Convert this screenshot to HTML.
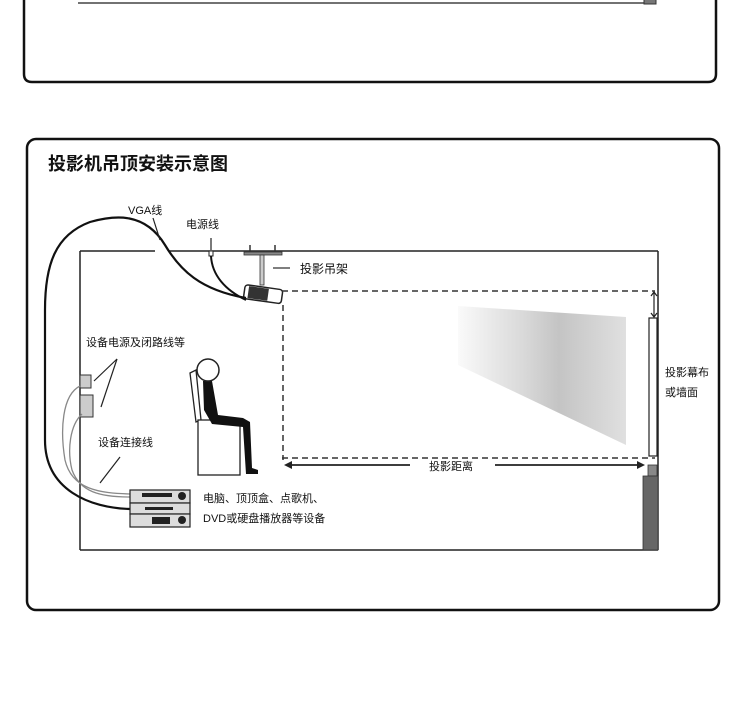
<!DOCTYPE html>
<html><head><meta charset="utf-8"><style>
html,body{margin:0;padding:0;background:#fff;}
svg{display:block;}
text{font-family:"Liberation Sans","Noto Sans CJK SC",sans-serif;fill:#111;}
</style></head><body>
<svg width="750" height="704" viewBox="0 0 750 704" xmlns="http://www.w3.org/2000/svg">
<defs>
<linearGradient id="g" x1="0" x2="1" y1="0" y2="0">
<stop offset="0" stop-color="#fafafa"/><stop offset="0.4" stop-color="#d8d8d8"/><stop offset="0.6" stop-color="#c4c4c4"/><stop offset="1" stop-color="#e0e0e0"/>
</linearGradient>
</defs>
<!-- top panel -->
<path d="M24,-10 L24,74 Q24,82 32,82 L708,82 Q716,82 716,74 L716,-10" fill="none" stroke="#111" stroke-width="2.5"/>
<line x1="78" y1="3" x2="645" y2="3" stroke="#444" stroke-width="1.5"/>
<rect x="644" y="-2" width="12" height="6" fill="#777" stroke="#333"/>
<!-- main panel -->
<rect x="27" y="139" width="692" height="471" rx="9" fill="none" stroke="#111" stroke-width="2.5"/>
<text x="48" y="170" font-size="18" font-weight="bold">投影机吊顶安装示意图</text>
<!-- room -->
<line x1="80" y1="251" x2="80" y2="550" stroke="#222" stroke-width="1.5"/>
<line x1="80" y1="251" x2="155" y2="251" stroke="#222" stroke-width="1.5"/>
<line x1="168" y1="251" x2="658" y2="251" stroke="#222" stroke-width="1.5"/>
<line x1="658" y1="251" x2="658" y2="550" stroke="#222" stroke-width="1.5"/>
<line x1="80" y1="550" x2="658" y2="550" stroke="#222" stroke-width="1.5"/>
<!-- mount -->
<rect x="244" y="252" width="38" height="3" fill="#888" stroke="#333" stroke-width="0.8"/>
<line x1="250" y1="245" x2="250" y2="252" stroke="#333" stroke-width="1.5"/>
<line x1="275" y1="245" x2="275" y2="252" stroke="#333" stroke-width="1.5"/>
<rect x="260" y="255" width="4" height="30" fill="#ccc" stroke="#333" stroke-width="0.8"/>
<line x1="273" y1="268" x2="290" y2="268" stroke="#333" stroke-width="1.2"/>
<text x="300" y="273" font-size="12">投影吊架</text>
<!-- projector -->
<g transform="rotate(8 262 295)">
<rect x="244" y="287" width="38" height="14" rx="3" fill="#fff" stroke="#222" stroke-width="1.5"/>
<rect x="248" y="288" width="20" height="12" fill="#333"/>
</g>
<!-- power cord -->
<line x1="211" y1="238" x2="211" y2="250" stroke="#222" stroke-width="1.2"/>
<rect x="209" y="251" width="4" height="5" fill="#fff" stroke="#222" stroke-width="1"/>
<path d="M211,256 C212,275 225,290 246,300" fill="none" stroke="#111" stroke-width="2"/>
<text x="186" y="228" font-size="11">电源线</text>
<!-- VGA cable -->
<path d="M246,298 C200,290 180,270 165,245 C145,212 115,215 90,222 C55,235 45,265 45,310 L45,440 C45,490 90,508 130,509" fill="none" stroke="#111" stroke-width="2.2"/>
<line x1="153" y1="218" x2="160" y2="240" stroke="#222" stroke-width="1.2"/>
<text x="128" y="214" font-size="11">VGA线</text>
<!-- wall boxes -->
<rect x="80" y="375" width="11" height="13" fill="#ccc" stroke="#333" stroke-width="1"/>
<rect x="80" y="395" width="13" height="22" fill="#ccc" stroke="#333" stroke-width="1"/>
<line x1="94" y1="381" x2="117" y2="359" stroke="#222" stroke-width="1.2"/>
<line x1="101" y1="407" x2="117" y2="359" stroke="#222" stroke-width="1.2"/>
<text x="86" y="346" font-size="11">设备电源及闭路线等</text>
<path d="M80,386 C62,395 60,430 65,460 C72,490 100,493 130,494" fill="none" stroke="#888" stroke-width="1.3"/>
<path d="M82,414 C70,425 67,450 72,470 C80,492 100,497 130,497" fill="none" stroke="#888" stroke-width="1.3"/>
<line x1="100" y1="483" x2="120" y2="457" stroke="#222" stroke-width="1.2"/>
<text x="98" y="446" font-size="11">设备连接线</text>
<!-- equipment -->
<rect x="130" y="490" width="60" height="13" fill="#ddd" stroke="#222" stroke-width="1.2"/>
<rect x="142" y="493" width="30" height="4" fill="#222"/>
<circle cx="182" cy="496" r="4" fill="#222"/>
<rect x="130" y="503" width="60" height="11" fill="#ddd" stroke="#222" stroke-width="1.2"/>
<rect x="145" y="507" width="28" height="3" fill="#222"/>
<rect x="130" y="514" width="60" height="13" fill="#ddd" stroke="#222" stroke-width="1.2"/>
<rect x="152" y="517" width="18" height="7" fill="#222"/>
<circle cx="182" cy="520" r="4" fill="#222"/>
<text x="203" y="502" font-size="11">电脑、顶顶盒、点歌机、</text>
<text x="203" y="522" font-size="11">DVD或硬盘播放器等设备</text>
<!-- chair & person -->
<path d="M190,373 L196,370 L201,420 L196,422 Z" fill="#fff" stroke="#222" stroke-width="1.3"/>
<rect x="198" y="420" width="42" height="55" fill="#fff" stroke="#222" stroke-width="1.3"/>
<path d="M203,381 L212,381 L218,415 L243,418 L250,422 L252,468 L258,470 L258,474 L246,474 L243,427 L212,424 L204,410 Z" fill="#111"/>
<circle cx="208" cy="370" r="11" fill="#fff" stroke="#222" stroke-width="1.5"/>
<!-- projection dashed -->
<line x1="282" y1="291" x2="655" y2="291" stroke="#333" stroke-width="1.5" stroke-dasharray="6,4"/>
<line x1="282" y1="458" x2="655" y2="458" stroke="#333" stroke-width="1.5" stroke-dasharray="6,4"/>
<line x1="283" y1="305" x2="283" y2="460" stroke="#333" stroke-width="1.5" stroke-dasharray="6,4"/>
<!-- image trapezoid -->
<polygon points="458,306 626,317 626,445 458,365" fill="url(#g)"/>
<!-- screen -->
<rect x="649" y="318" width="8" height="138" fill="#fff" stroke="#222" stroke-width="1.2"/>
<line x1="654" y1="293" x2="654" y2="316" stroke="#222" stroke-width="1.2"/>
<path d="M651,296 L654,292 L657,296 M651,313 L654,317 L657,313" fill="none" stroke="#222" stroke-width="1.2"/>
<text x="665" y="376" font-size="11">投影幕布</text>
<text x="665" y="396" font-size="11">或墙面</text>
<!-- wall below -->
<rect x="648" y="465" width="9" height="11" fill="#888" stroke="#333" stroke-width="0.8"/>
<rect x="643" y="476" width="15" height="74" fill="#666" stroke="#333" stroke-width="0.8"/>
<!-- distance arrow -->
<line x1="290" y1="465" x2="410" y2="465" stroke="#222" stroke-width="1.8"/>
<line x1="495" y1="465" x2="642" y2="465" stroke="#222" stroke-width="1.8"/>
<polygon points="284,465 292,461 292,469" fill="#222"/>
<polygon points="645,465 637,461 637,469" fill="#222"/>
<text x="429" y="470" font-size="11">投影距离</text>
</svg>
</body></html>
